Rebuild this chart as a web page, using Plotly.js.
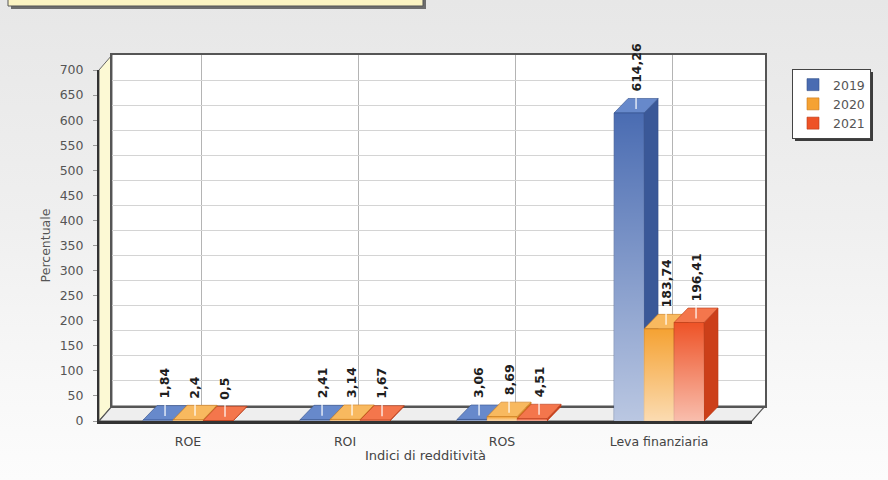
<!DOCTYPE html>
<html>
<head>
<meta charset="utf-8">
<script src="https://cdn.plot.ly/plotly-3.0.1.min.js"></script>
<style>
  html, body { margin: 0; padding: 0; }
  body { width: 888px; height: 480px; overflow: hidden;
         background: linear-gradient(to bottom, #e7e7e7 0%, #efefef 45%, #f8f8f8 80%, #fcfcfc 100%); }
  #chart { width: 888px; height: 480px; }
</style>
</head>
<body>
<div id="chart"></div>
<script>
// Indici di redditività per anno
const categories = ['ROE', 'ROI', 'ROS', 'Leva finanziaria'];
const years = ['2019', '2020', '2021'];
const values2019 = [1.84, 2.41, 3.06, 614.26];
const values2020 = [2.4, 3.14, 8.69, 183.74];
const values2021 = [0.5, 1.67, 4.51, 196.41];
const yTicks = [0, 50, 100, 150, 200, 250, 300, 350, 400, 450, 500, 550, 600, 650, 700];

const series = [values2019, values2020, values2021];

// colours: front face, side face, top face
const frontColors = ['#4a6cb2', '#f5a233', '#ee5327'];
const sideColors  = ['#3a5898', '#d9871f', '#cc3f19'];
const topColors   = ['#6789cb', '#f8b95f', '#f4764c'];
const edgeColors  = ['#34508c', '#c97a1c', '#b93a17'];

// page geometry (pixels)
const W = 888, H = 480;
const M = { l: 99, r: 123, t: 55, b: 59 };
const PW = W - M.l - M.r, PH = H - M.t - M.b;
const frontBox = { x0: 99, x1: 752, y0: 70, y1: 421 };   // front plane
const backBox  = { x0: 112, x1: 765, y0: 55, y1: 406 };  // back wall
const px = p => (p - M.l) / PW;
const py = p => (H - M.b - p) / PH;

const xRange = [-0.567, 3.592];
const yRange = [0, 700];
const xUnitsPerPx = (xRange[1] - xRange[0]) / (frontBox.x1 - frontBox.x0);
const yUnitsPerPx = (yRange[1] - yRange[0]) / (frontBox.y1 - frontBox.y0);

// depth of the 3D bars
const DX = 14 * xUnitsPerPx;
const DY = 14.5 * yUnitsPerPx;

const barW = 0.191;
const catIdx = categories.map((_, i) => i);
const offsets = [-1.5 * barW, -0.5 * barW, 0.5 * barW];

const fmt = v => String(v).replace('.', ',');

const traces = [];
// empty trace so the back-wall subplot is drawn
traces.push({ type: 'scatter', x: [], y: [], xaxis: 'x', yaxis: 'y',
              showlegend: false, hoverinfo: 'skip' });

// front faces of the bars
series.forEach((vals, s) => {
  traces.push({
    type: 'bar', name: years[s], x: catIdx, y: vals,
    xaxis: 'x2', yaxis: 'y2',
    width: barW, offset: offsets[s],
    marker: { color: frontColors[s], line: { color: edgeColors[s], width: 0.6 } },
    hovertext: categories.map((c, i) => c + ' ' + years[s] + ': ' + fmt(vals[i])),
    hoverinfo: 'text'
  });
});

// soft light gradient on each front face
series.forEach((vals, s) => {
  vals.forEach((v, i) => {
    const xl = catIdx[i] + offsets[s], xr = xl + barW;
    traces.push({
      type: 'scatter', mode: 'none', xaxis: 'x2', yaxis: 'y2',
      x: [xl, xr, xr, xl, xl], y: [0, 0, v, v, 0],
      fill: 'toself', fillcolor: 'rgba(255,255,255,0)',
      fillgradient: { type: 'vertical',
        colorscale: [[0, 'rgba(255,255,255,0.62)'], [1, 'rgba(255,255,255,0)']] },
      showlegend: false, hoverinfo: 'skip'
    });
  });
});

const shapes = [];

// top banner box (cut at the page edge) with shadow
shapes.push({ type: 'rect', xref: 'paper', yref: 'paper', layer: 'below',
  x0: px(11), x1: px(426), y0: py(9), y1: py(-12),
  fillcolor: '#6e6e6e', line: { width: 0 } });
shapes.push({ type: 'rect', xref: 'paper', yref: 'paper', layer: 'below',
  x0: px(8), x1: px(423), y0: py(6), y1: py(-12),
  fillcolor: '#fcf4c2', line: { color: '#555', width: 1 } });

// back wall
shapes.push({ type: 'rect', xref: 'paper', yref: 'paper', layer: 'below',
  x0: px(backBox.x0), x1: px(backBox.x1), y0: py(backBox.y1), y1: py(backBox.y0),
  fillcolor: '#ffffff', line: { width: 0 } });

// left wall
shapes.push({ type: 'path', xref: 'paper', yref: 'paper', layer: 'below',
  path: `M${px(frontBox.x0)},${py(frontBox.y1)} L${px(frontBox.x0)},${py(frontBox.y0)} ` +
        `L${px(backBox.x0)},${py(backBox.y0)} L${px(backBox.x0)},${py(backBox.y1)} Z`,
  fillcolor: '#fcf9d4', line: { color: '#666', width: 1 } });

// floor
shapes.push({ type: 'path', xref: 'paper', yref: 'paper', layer: 'below',
  path: `M${px(frontBox.x0)},${py(frontBox.y1)} L${px(backBox.x0)},${py(backBox.y1)} ` +
        `L${px(backBox.x1)},${py(backBox.y1)} L${px(frontBox.x1)},${py(frontBox.y1)} Z`,
  fillcolor: '#eeeeee', line: { color: '#555', width: 1.2 } });

// legend shadow
shapes.push({ type: 'rect', xref: 'paper', yref: 'paper', layer: 'below',
  x0: px(795), x1: px(873), y0: py(141), y1: py(72),
  fillcolor: '#3c3c3c', line: { width: 0 } });

// side and top faces of every bar, with a short white leader on the top face
series.forEach((vals, s) => {
  vals.forEach((v, i) => {
    const xl = catIdx[i] + offsets[s], xr = xl + barW;
    shapes.push({ type: 'path', xref: 'x2', yref: 'y2', layer: 'between',
      path: `M${xr},0 L${xr + DX},${DY} L${xr + DX},${v + DY} L${xr},${v} Z`,
      fillcolor: sideColors[s], line: { color: edgeColors[s], width: 0.6 } });
    shapes.push({ type: 'path', xref: 'x2', yref: 'y2', layer: 'between',
      path: `M${xl},${v} L${xl + DX},${v + DY} L${xr + DX},${v + DY} L${xr},${v} Z`,
      fillcolor: topColors[s], line: { color: edgeColors[s], width: 0.6 } });
    shapes.push({ type: 'line', xref: 'x2', yref: 'y2', layer: 'between',
      xsizemode: 'pixel', ysizemode: 'pixel',
      xanchor: xl + barW / 2, yanchor: v,
      x0: 7, x1: 7, y0: 4, y1: 19,
      line: { color: '#ffffff', width: 1.2 } });
  });
});

// value labels, written upwards above each bar
const annotations = [];
series.forEach((vals, s) => {
  vals.forEach((v, i) => {
    annotations.push({
      xref: 'x2', yref: 'y2', x: catIdx[i] + offsets[s] + barW / 2, y: v,
      xshift: 7, yshift: 19, text: fmt(v), textangle: -90,
      showarrow: false, xanchor: 'center', yanchor: 'bottom',
      font: { family: 'DejaVu Sans', size: 12.5, color: '#1e1e1e', weight: 'bold' }
    });
  });
});

const axisFont = { family: 'DejaVu Sans', size: 12.5, color: '#555' };

const layout = {
  width: W, height: H,
  margin: M,
  paper_bgcolor: 'rgba(0,0,0,0)',
  plot_bgcolor: 'rgba(0,0,0,0)',
  showlegend: true,
  separators: ',.',
  font: { family: 'DejaVu Sans', size: 12.5, color: '#555' },
  // back wall
  xaxis: {
    domain: [px(backBox.x0), px(backBox.x1)], anchor: 'y',
    range: xRange, tickvals: catIdx, showticklabels: false, ticks: '',
    showgrid: true, gridcolor: '#b4b4b4', gridwidth: 1,
    zeroline: false, showline: true, mirror: true, linecolor: '#555', linewidth: 1.5,
    fixedrange: true
  },
  yaxis: {
    domain: [py(backBox.y1), py(backBox.y0)], anchor: 'x',
    range: yRange, tickvals: yTicks, showticklabels: false, ticks: '',
    showgrid: true, gridcolor: '#d4d4d4', gridwidth: 1,
    zeroline: false, showline: true, mirror: true, linecolor: '#555', linewidth: 1.5,
    fixedrange: true
  },
  // front plane carrying the bars
  xaxis2: {
    domain: [px(frontBox.x0), px(frontBox.x1)], anchor: 'y2',
    range: xRange, tickvals: catIdx, ticktext: categories,
    ticks: '', ticklabelstandoff: 7,
    tickfont: { family: 'DejaVu Sans', size: 12.5, color: '#444' },
    showgrid: false, zeroline: false,
    showline: true, linecolor: '#333', linewidth: 2.5,
    title: { text: 'Indici di redditività', standoff: 4,
             font: { family: 'DejaVu Sans', size: 13, color: '#444' } },
    fixedrange: true
  },
  yaxis2: {
    domain: [py(frontBox.y1), py(frontBox.y0)], anchor: 'x2',
    range: yRange, tickvals: yTicks,
    ticks: 'outside', ticklen: 4, tickcolor: '#9a9a9a', ticklabelstandoff: 7,
    tickfont: axisFont,
    showgrid: false, zeroline: false,
    showline: true, linecolor: '#333', linewidth: 2,
    title: { text: 'Percentuale', standoff: 6,
             font: { family: 'DejaVu Sans', size: 12.5, color: '#555' } },
    fixedrange: true
  },
  legend: {
    x: px(792), y: py(69), xanchor: 'left', yanchor: 'top',
    bgcolor: '#ffffff', bordercolor: '#444', borderwidth: 1,
    font: { family: 'DejaVu Sans', size: 12.5, color: '#555' },
    itemwidth: 30, tracegroupgap: 0
  },
  shapes: shapes,
  annotations: annotations,
  hovermode: 'closest'
};

Plotly.newPlot('chart', traces, layout, { displayModeBar: false, responsive: false });
</script>
</body>
</html>
